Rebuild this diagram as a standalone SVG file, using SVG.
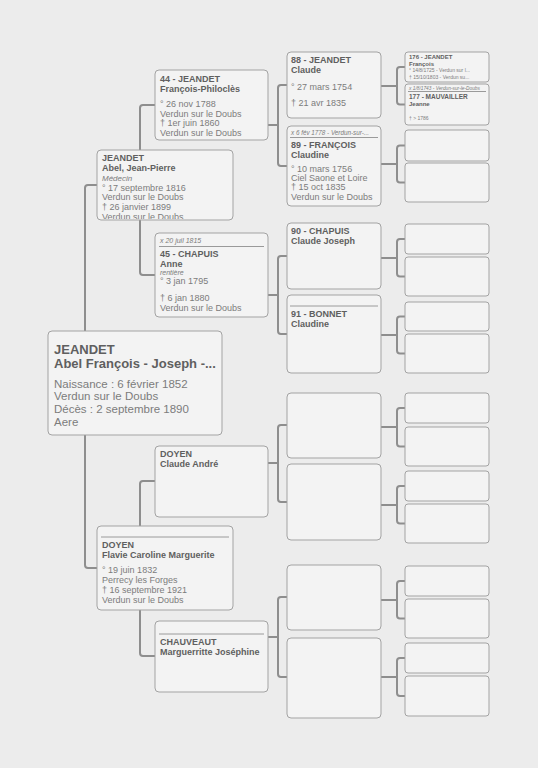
<svg xmlns="http://www.w3.org/2000/svg" width="538" height="768" viewBox="0 0 538 768">
<defs>
<style>
.bg{fill:#ececec}
.bx{fill:#f3f3f3;stroke:#a3a3a3;stroke-width:1}
.sep{stroke:#9a9a9a;stroke-width:1}
.con{fill:none;stroke:#8e8e8e;stroke-width:2}
text{font-family:"Liberation Sans",Arial,Helvetica,sans-serif;fill:#7c7c7c}
.b{font-weight:bold;fill:#5f5f5f}
.i{font-style:italic}
.s9{font-size:9px}
.s7{font-size:7px}
.s6{font-size:6px}
.s5{font-size:5px}
</style>
<clipPath id="clipA"><rect x="97" y="150" width="136" height="69"/></clipPath>
</defs>
<rect class="bg" x="0" y="0" width="538" height="768"/>

<g id="connectors">
<!-- root to col1 -->
<path class="con" d="M97 185 H88 Q85 185 85 188 V565 Q85 568 88 568 H97"/>
<!-- col1 to col2 -->
<path class="con" d="M155 105 H143 Q140 105 140 108 V272 Q140 275 143 275 H155"/>
<path class="con" d="M155 481 H143 Q140 481 140 484 V653 Q140 656 143 656 H155"/>
<!-- col2 to col3 -->
<path class="con" d="M268 125 H278 M287 85 H281 Q278 85 278 88 V163 Q278 166 281 166 H287"/>
<path class="con" d="M268 295 H278 M287 256 H281 Q278 256 278 259 V331 Q278 334 281 334 H287"/>
<path class="con" d="M268 463 H278 M287 425 H281 Q278 425 278 428 V499 Q278 502 281 502 H287"/>
<path class="con" d="M268 637 H278 M287 597 H281 Q278 597 278 600 V674 Q278 677 281 677 H287"/>
<!-- col3 to col4 -->
<path class="con" d="M381 86 H397 M405 67 H400 Q397 67 397 70 V101.5 Q397 104.5 400 104.5 H405"/>
<path class="con" d="M381 164 H397 M405 145.5 H400 Q397 145.5 397 148.5 V179.5 Q397 182.5 400 182.5 H405"/>
<path class="con" d="M381 258 H397 M405 239 H400 Q397 239 397 242 V273.5 Q397 276.5 400 276.5 H405"/>
<path class="con" d="M381 335 H397 M405 316.5 H400 Q397 316.5 397 319.5 V350.5 Q397 353.5 400 353.5 H405"/>
<path class="con" d="M381 427 H397 M405 408 H400 Q397 408 397 411 V443.5 Q397 446.5 400 446.5 H405"/>
<path class="con" d="M381 505 H397 M405 486 H400 Q397 486 397 489 V520.5 Q397 523.5 400 523.5 H405"/>
<path class="con" d="M381 600 H397 M405 581 H400 Q397 581 397 584 V615.5 Q397 618.5 400 618.5 H405"/>
<path class="con" d="M381 677 H397 M405 658 H400 Q397 658 397 661 V693 Q397 696 400 696 H405"/>
</g>

<g id="root">
<rect class="bx" x="48" y="331" width="174" height="104" rx="4"/>
<text x="54" y="354" class="b" font-size="13">JEANDET</text>
<text x="54" y="368" class="b" font-size="13">Abel François - Joseph -...</text>
<text x="54" y="387.5" font-size="11.5">Naissance : 6 février 1852</text>
<text x="54" y="400" font-size="11.5">Verdun sur le Doubs</text>
<text x="54" y="413" font-size="11.5">Décès : 2 septembre 1890</text>
<text x="54" y="425.5" font-size="11.5">Aere</text>
</g>

<g id="p2">
<rect class="bx" x="97" y="150" width="136" height="70" rx="4"/>
<g clip-path="url(#clipA)">
<text x="102" y="161" class="b s9">JEANDET</text>
<text x="102" y="171" class="b s9">Abel, Jean-Pierre</text>
<text x="102" y="180.5" class="i" font-size="8">Médecin</text>
<text x="102" y="190.5" class="s9">° 17 septembre 1816</text>
<text x="102" y="200" class="s9">Verdun sur le Doubs</text>
<text x="102" y="209.5" class="s9">† 26 janvier 1899</text>
<text x="102" y="219.5" class="s9">Verdun sur le Doubs</text>
</g>
</g>

<g id="p3">
<rect class="bx" x="97" y="526" width="136" height="84" rx="4"/>
<line class="sep" x1="101" y1="537" x2="229" y2="537"/>
<text x="102" y="548" class="b s9">DOYEN</text>
<text x="102" y="558" class="b s9">Flavie Caroline Marguerite</text>
<text x="102" y="573" class="s9">° 19 juin 1832</text>
<text x="102" y="583" class="s9">Perrecy les Forges</text>
<text x="102" y="593" class="s9">† 16 septembre 1921</text>
<text x="102" y="603" class="s9">Verdun sur le Doubs</text>
</g>

<g id="p44">
<rect class="bx" x="155" y="70" width="113" height="70" rx="4"/>
<text x="160" y="82" class="b s9">44 - JEANDET</text>
<text x="160" y="92" class="b s9">François-Philoclès</text>
<text x="160" y="107" class="s9">° 26 nov 1788</text>
<text x="160" y="116.5" class="s9">Verdun sur le Doubs</text>
<text x="160" y="126" class="s9">† 1er juin 1860</text>
<text x="160" y="135.5" class="s9">Verdun sur le Doubs</text>
</g>

<g id="p45">
<rect class="bx" x="155" y="233" width="113" height="84" rx="4"/>
<text x="160" y="243" class="i s7">x 20 juil 1815</text>
<line class="sep" x1="159" y1="246.5" x2="264" y2="246.5"/>
<text x="160" y="257" class="b s9">45 - CHAPUIS</text>
<text x="160" y="267" class="b s9">Anne</text>
<text x="160" y="274.5" class="i s7">rentière</text>
<text x="160" y="284" class="s9">° 3 jan 1795</text>
<text x="160" y="301" class="s9">† 6 jan 1880</text>
<text x="160" y="311" class="s9">Verdun sur le Doubs</text>
</g>

<g id="p6">
<rect class="bx" x="155" y="446" width="113" height="71" rx="4"/>
<text x="160" y="457" class="b s9">DOYEN</text>
<text x="160" y="467" class="b s9">Claude André</text>
</g>

<g id="p7">
<rect class="bx" x="155" y="621" width="113" height="71" rx="4"/>
<line class="sep" x1="159" y1="634" x2="264" y2="634"/>
<text x="160" y="645" class="b s9">CHAUVEAUT</text>
<text x="160" y="655" class="b s9">Marguerritte Joséphine</text>
</g>

<g id="p88">
<rect class="bx" x="287" y="52" width="94" height="66" rx="4"/>
<text x="291" y="63" class="b s9">88 - JEANDET</text>
<text x="291" y="73" class="b s9">Claude</text>
<text x="291" y="90" class="s9">° 27 mars 1754</text>
<text x="291" y="106" class="s9">† 21 avr 1835</text>
</g>

<g id="p89">
<rect class="bx" x="287" y="126" width="94" height="80" rx="4"/>
<text x="291" y="134.5" class="i" font-size="6.3">x 6 fév 1778 - Verdun-sur-...</text>
<line class="sep" x1="290" y1="137.5" x2="378" y2="137.5"/>
<text x="291" y="148" class="b s9">89 - FRANÇOIS</text>
<text x="291" y="158" class="b s9">Claudine</text>
<text x="291" y="172" class="s9">° 10 mars 1756</text>
<text x="291" y="181" class="s9">Ciel Saone et Loire</text>
<text x="291" y="190" class="s9">† 15 oct 1835</text>
<text x="291" y="199.5" class="s9">Verdun sur le Doubs</text>
</g>

<g id="p90">
<rect class="bx" x="287" y="223" width="94" height="66" rx="4"/>
<text x="291" y="234" class="b s9">90 - CHAPUIS</text>
<text x="291" y="244" class="b s9">Claude Joseph</text>
</g>

<g id="p91">
<rect class="bx" x="287" y="295" width="94" height="78" rx="4"/>
<line class="sep" x1="290" y1="306" x2="378" y2="306"/>
<text x="291" y="317" class="b s9">91 - BONNET</text>
<text x="291" y="327" class="b s9">Claudine</text>
</g>

<g id="p12"><rect class="bx" x="287" y="393" width="94" height="65" rx="4"/></g>
<g id="p13"><rect class="bx" x="287" y="464" width="94" height="76" rx="4"/></g>
<g id="p14"><rect class="bx" x="287" y="565" width="94" height="65" rx="4"/></g>
<g id="p15"><rect class="bx" x="287" y="638" width="94" height="80" rx="4"/></g>

<g id="p176">
<rect class="bx" x="405" y="52" width="84" height="30" rx="3"/>
<text x="409" y="59" class="b s6">176 - JEANDET</text>
<text x="409" y="65.5" class="b s6">François</text>
<text x="409" y="72" class="s5">° 14/8/1725 - Verdun sur l...</text>
<text x="409" y="78.5" class="s5">† 15/10/1803 - Verdun su...</text>
</g>
<g id="p177">
<rect class="bx" x="405" y="84" width="84" height="41" rx="3"/>
<text x="409" y="89.5" class="i" font-size="4.8">x 1/8/1743 - Verdun-sur-le-Doubs</text>
<line class="sep" x1="408" y1="91.5" x2="486" y2="91.5"/>
<text x="409" y="99" class="b" font-size="6.5">177 - MAUVAILLER</text>
<text x="409" y="106" class="b s6">Jeanne</text>
<text x="409" y="120" class="s5">† &gt; 1786</text>
</g>
<g id="p178"><rect class="bx" x="405" y="130" width="84" height="31" rx="3"/></g>
<g id="p179"><rect class="bx" x="405" y="163" width="84" height="39" rx="3"/></g>
<g id="p180"><rect class="bx" x="405" y="224" width="84" height="30" rx="3"/></g>
<g id="p181"><rect class="bx" x="405" y="257" width="84" height="39" rx="3"/></g>
<g id="p182"><rect class="bx" x="405" y="302" width="84" height="29" rx="3"/></g>
<g id="p183"><rect class="bx" x="405" y="334" width="84" height="39" rx="3"/></g>
<g id="p24"><rect class="bx" x="405" y="393" width="84" height="30" rx="3"/></g>
<g id="p25"><rect class="bx" x="405" y="427" width="84" height="39" rx="3"/></g>
<g id="p26"><rect class="bx" x="405" y="471" width="84" height="30" rx="3"/></g>
<g id="p27"><rect class="bx" x="405" y="504" width="84" height="39" rx="3"/></g>
<g id="p28"><rect class="bx" x="405" y="566" width="84" height="30" rx="3"/></g>
<g id="p29"><rect class="bx" x="405" y="599" width="84" height="39" rx="3"/></g>
<g id="p30"><rect class="bx" x="405" y="643" width="84" height="30" rx="3"/></g>
<g id="p31"><rect class="bx" x="405" y="676" width="84" height="40" rx="3"/></g>
</svg>
